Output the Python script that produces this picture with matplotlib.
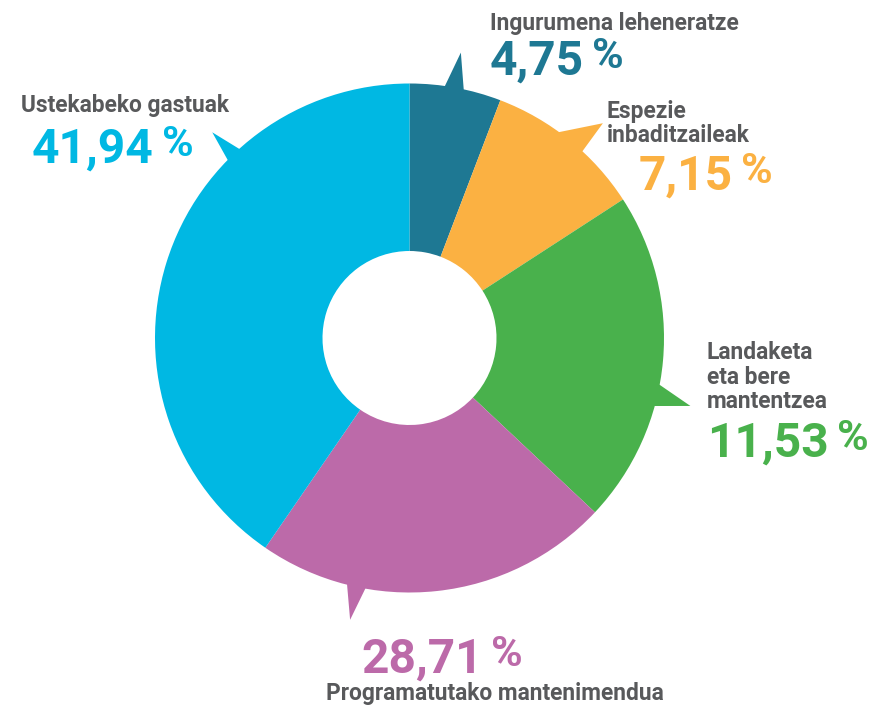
import matplotlib.pyplot as plt
from matplotlib.patches import Polygon
import numpy as np

plt.rcParams["font.family"] = ["Roboto", "DejaVu Sans"]

# shares as drawn in the picture (degrees of the ring turned into %)
categories = ["Ingurumena leheneratze", "Espezie inbaditzaileak",
              "Landaketa eta bere mantentzea", "Programatutako mantenimendua",
              "Ustekabeko gastuak"]
wedge_shares = [5.81, 10.03, 21.17, 22.58, 40.42]
label_values = ["4,75", "7,15", "11,53", "28,71", "41,94"]
label_lines = [["Ingurumena leheneratze"],
               ["Espezie", "inbaditzaileak"],
               ["Landaketa", "eta bere", "mantentzea"],
               ["Programatutako mantenimendua"],
               ["Ustekabeko gastuak"]]
colors = ["#1e7893", "#fbb142", "#49b14c", "#bc6aa9", "#00b8e3"]
grey = "#58595b"

W, H = 892, 707
cx, cy = 409.5, 338
R, r_in = 254.5, 87

fig = plt.figure(figsize=(W / 100, H / 100), dpi=100)
ax = fig.add_axes([0, 0, 1, 1])
ax.pie(wedge_shares, colors=colors, startangle=-90, counterclock=True,
       radius=R, center=(cx, cy),
       wedgeprops=dict(width=R - r_in, linewidth=0))
ax.set_xlim(0, W)
ax.set_ylim(H, 0)
ax.axis("off")


def polar(theta, rad):
    t = np.radians(theta)
    return cx + rad * np.sin(t), cy - rad * np.cos(t)


# speech-bubble pointers: base angles and tip (angle, radius)
pointers = [(8, 12.3, 10.2, 290), (36, 42.8, 42, 289), (100.6, 105.5, 103.6, 289),
            (190, 194.2, 191.9, 288), (314.4, 318, 316.2, 285)]
for (a1, a2, ta, tr), c in zip(pointers, colors):
    pts = [polar(a1, R - 6), polar(a1, R), polar(ta, tr), polar(a2, R), polar(a2, R - 6)]
    ax.add_patch(Polygon(pts, closed=True, facecolor=c, edgecolor="none"))

# text anchors in pixels: label x, first label baseline, number x, number baseline
label_x = [490, 607, 707, 326, 21]
label_y = [30, 118, 359, 700, 112]
number_x = [490, 639, 707, 361, 32]
number_y = [75, 190, 457, 673, 163]

fig.canvas.draw()
renderer = fig.canvas.get_renderer()
for i, c in enumerate(colors):
    for j, ln in enumerate(label_lines[i]):
        ax.text(label_x[i], label_y[i] + j * 24.5, ln, fontsize=16.4,
                fontweight="bold", color=grey, ha="left", va="baseline")
    t = ax.text(number_x[i], number_y[i], label_values[i], fontsize=34.5,
                fontweight="bold", color=c, ha="left", va="baseline")
    bb = t.get_window_extent(renderer=renderer)
    x_end = bb.x1 * W / fig.bbox.width
    ax.text(x_end + 8, number_y[i] - 7, "%", fontsize=31, fontweight="bold",
            color=c, ha="left", va="baseline")

plt.savefig("out.png", dpi=100)
plt.close()
